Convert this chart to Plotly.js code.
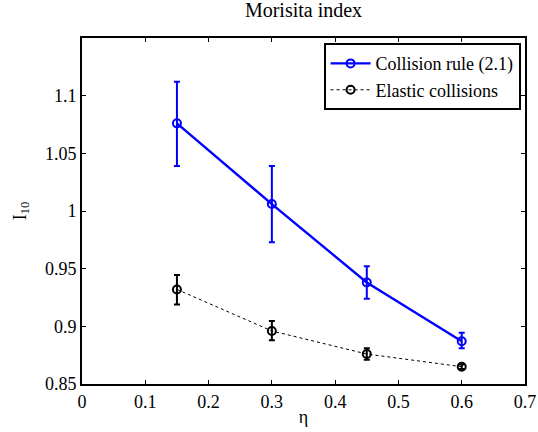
<!DOCTYPE html>
<html><head><meta charset="utf-8">
<script src="https://cdn.plot.ly/plotly-3.0.1.min.js"></script>
<style>html,body{margin:0;padding:0;background:#fff}</style>
</head><body>
<div id="chart" style="width:538px;height:432px"></div>
<script>
const eta = [0.15, 0.30, 0.45, 0.60];
const collisionRule = [1.076, 1.006, 0.938, 0.887];
const collisionErrPlus = [0.036, 0.033, 0.014, 0.0075];
const collisionErrMinus = [0.037, 0.033, 0.014, 0.006];
const elastic = [0.932, 0.896, 0.876, 0.865];
const elasticErrPlus = [0.0126, 0.0087, 0.005, 0.002];
const elasticErrMinus = [0.013, 0.008, 0.005, 0.002];
const xTicks = [0, 0.1, 0.2, 0.3, 0.4, 0.5, 0.6, 0.7];
const xTickText = ['0', '0.1', '0.2', '0.3', '0.4', '0.5', '0.6', '0.7'];
const yTicks = [0.85, 0.9, 0.95, 1, 1.05, 1.1];
const yTickText = ['0.85', '0.9', '0.95', '1', '1.05', '1.1'];

const fam = '"Liberation Serif", "Times New Roman", serif';
const font = {family: fam, size: 18, color: '#000'};
const titleFont = {family: fam, size: 20, color: '#000'};
const legendFont = {family: fam, size: 18, color: '#000'};

const traces = [
  {
    x: eta, y: collisionRule, name: 'Collision rule (2.1)', type: 'scatter', mode: 'lines+markers',
    line: {color: '#0000ff', width: 2.4},
    marker: {symbol: 'circle-open', size: 8, color: '#0000ff', line: {width: 2}},
    error_y: {type: 'data', symmetric: false, array: collisionErrPlus, arrayminus: collisionErrMinus,
      color: '#0000ff', thickness: 2, width: 3}
  },
  {
    x: eta, y: elastic, name: 'Elastic collisions', type: 'scatter', mode: 'lines+markers',
    line: {color: '#000', width: 1, dash: 'dot'},
    marker: {symbol: 'circle-open', size: 8, color: '#000', line: {width: 2}},
    error_y: {type: 'data', symmetric: false, array: elasticErrPlus, arrayminus: elasticErrMinus,
      color: '#000', thickness: 2, width: 3}
  }
];

const layout = {
  width: 538, height: 432,
  paper_bgcolor: '#fff', plot_bgcolor: '#fff',
  margin: {l: 82, r: 13, t: 38, b: 48},
  font: font,
  showlegend: true,
  title: {text: 'Morisita index', font: titleFont, x: 0.5, xref: 'paper', y: 0.992, yanchor: 'top'},
  xaxis: {
    range: [0, 0.7], tickvals: xTicks, ticktext: xTickText,
    showgrid: false, zeroline: false, showline: true, mirror: 'ticks',
    linecolor: '#000', linewidth: 2, ticks: 'inside', ticklen: 4, tickwidth: 1, tickcolor: '#000',
    tickfont: font,
    title: {text: 'η', font: font, standoff: 0}
  },
  yaxis: {
    range: [0.85, 1.15], tickvals: yTicks, ticktext: yTickText,
    showgrid: false, zeroline: false, showline: true, mirror: 'ticks',
    linecolor: '#000', linewidth: 2, ticks: 'inside', ticklen: 4, tickwidth: 1, tickcolor: '#000',
    tickfont: font,
    title: {text: 'I<sub>10</sub>', font: font, standoff: 14}
  },
  legend: {
    x: 0.99, xanchor: 'right', y: 0.985, yanchor: 'top',
    bgcolor: '#fff', bordercolor: '#000', borderwidth: 2,
    font: legendFont, itemwidth: 40, tracegroupgap: 0
  }
};

Plotly.newPlot('chart', traces, layout, {displayModeBar: false, staticPlot: true});
</script>
</body></html>
